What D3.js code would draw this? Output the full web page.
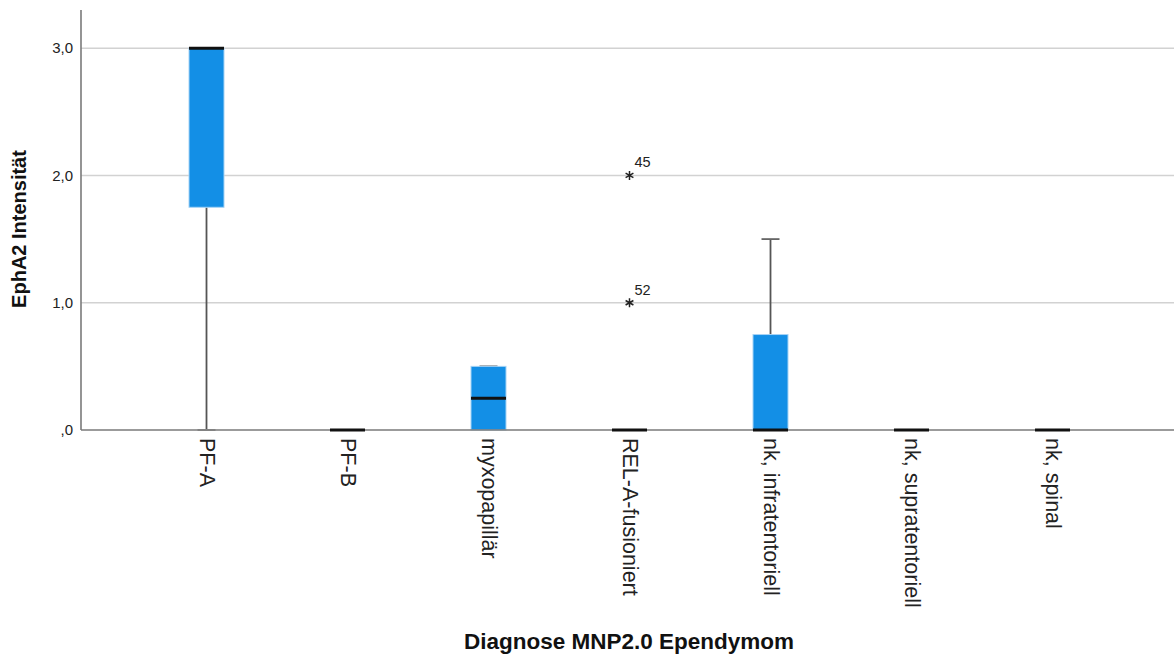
<!DOCTYPE html>
<html>
<head>
<meta charset="utf-8">
<script src="https://cdn.jsdelivr.net/npm/d3@7"></script>
<style>
  html, body { margin: 0; padding: 0; background: #fff; }
  svg { display: block; font-family: "Liberation Sans", Arial, sans-serif; }
</style>
</head>
<body>
<svg id="chart" width="1174" height="655"></svg>
<script>
// Diagnosis groups and EphA2 intensity box statistics
const categories = ["PF-A", "PF-B", "myxopapillär", "REL-A-fusioniert",
  "nk, infratentoriell", "nk, supratentoriell", "nk, spinal"];
const whiskerLow  = [0,    0, 0,    0, 0,    0, 0];
const quartile1   = [1.75, 0, 0,    0, 0,    0, 0];
const medians     = [3,    0, 0.25, 0, 0,    0, 0];
const quartile3   = [3,    0, 0.5,  0, 0.75, 0, 0];
const whiskerHigh = [3,    0, 0.5,  0, 1.5,  0, 0];
// extreme values: group, value, case number
const outlierGroup = ["REL-A-fusioniert", "REL-A-fusioniert"];
const outlierValue = [2, 1];
const outlierCase  = ["45", "52"];
const yTicks = [0, 1, 2, 3];
const yTickLabels = [",0", "1,0", "2,0", "3,0"];

const svg = d3.select("#chart");
const plot = { left: 81, right: 1174, top: 10, bottom: 430 };

const x = d3.scaleBand().domain(categories).range([136, 1123]);
const y = d3.scaleLinear().domain([0, 3.3]).range([plot.bottom, plot.top]);
const boxW = 35, capW = 18;
const cx = c => x(c) + x.bandwidth() / 2;

// horizontal grid lines
svg.append("g").selectAll("line").data(yTicks.filter(v => v > 0)).join("line")
  .attr("x1", plot.left).attr("x2", plot.right)
  .attr("y1", d => y(d)).attr("y2", d => y(d))
  .attr("stroke", "#d2d2d2").attr("stroke-width", 1.6);

// y axis
const yAxis = d3.axisLeft(y).tickValues(yTicks)
  .tickFormat((d, i) => yTickLabels[i]).tickSize(0).tickPadding(8);
const gy = svg.append("g").attr("transform", `translate(${plot.left},0)`).call(yAxis);
gy.select(".domain").remove();
gy.selectAll("text").attr("font-size", 15).attr("fill", "#222")
  .attr("font-family", "Liberation Sans, Arial, sans-serif");

// axis lines
svg.append("line").attr("x1", plot.left).attr("x2", plot.left)
  .attr("y1", plot.top).attr("y2", plot.bottom)
  .attr("stroke", "#7a7a7a").attr("stroke-width", 1.6);

const groups = categories.map((c, i) => ({
  c, lo: whiskerLow[i], q1: quartile1[i], med: medians[i], q3: quartile3[i], hi: whiskerHigh[i]
}));

const g = svg.append("g");
// whiskers
g.selectAll(".wlo").data(groups.filter(d => d.q1 > d.lo)).join("line")
  .attr("x1", d => cx(d.c)).attr("x2", d => cx(d.c))
  .attr("y1", d => y(d.q1)).attr("y2", d => y(d.lo))
  .attr("stroke", "#555").attr("stroke-width", 1.8);
g.selectAll(".whi").data(groups.filter(d => d.hi > d.q3)).join("line")
  .attr("x1", d => cx(d.c)).attr("x2", d => cx(d.c))
  .attr("y1", d => y(d.q3)).attr("y2", d => y(d.hi))
  .attr("stroke", "#555").attr("stroke-width", 1.8);
// whisker caps
const caps = [];
groups.forEach(d => { caps.push({ c: d.c, v: d.lo }); caps.push({ c: d.c, v: d.hi }); });
g.selectAll(".cap").data(caps.filter(d => d.v > 0)).join("line")
  .attr("x1", d => cx(d.c) - capW / 2).attr("x2", d => cx(d.c) + capW / 2)
  .attr("y1", d => y(d.v)).attr("y2", d => y(d.v))
  .attr("stroke", "#666").attr("stroke-width", 1.8);

// boxes
g.selectAll("rect").data(groups.filter(d => d.q3 > d.q1)).join("rect")
  .attr("x", d => cx(d.c) - boxW / 2).attr("width", boxW)
  .attr("y", d => y(d.q3)).attr("height", d => y(d.q1) - y(d.q3))
  .attr("fill", "#138fe6").attr("stroke", "#a6d3f5").attr("stroke-width", 1);

// x axis line
svg.append("line").attr("x1", plot.left).attr("x2", plot.right)
  .attr("y1", plot.bottom).attr("y2", plot.bottom)
  .attr("stroke", "#7a7a7a").attr("stroke-width", 1.6);

// lower caps resting on the axis
g.selectAll(".cap0").data(groups.filter(d => d.q1 > d.lo)).join("line")
  .attr("x1", d => cx(d.c) - capW / 2).attr("x2", d => cx(d.c) + capW / 2)
  .attr("y1", d => y(d.lo)).attr("y2", d => y(d.lo))
  .attr("stroke", "#9a9a9a").attr("stroke-width", 2);

// medians
svg.append("g").selectAll("line").data(groups).join("line")
  .attr("x1", d => cx(d.c) - boxW / 2).attr("x2", d => cx(d.c) + boxW / 2)
  .attr("y1", d => y(d.med)).attr("y2", d => y(d.med))
  .attr("stroke", "#111").attr("stroke-width", 3);

// extreme values drawn as asterisks with case numbers
const outliers = outlierGroup.map((c, i) => ({ c, v: outlierValue[i], id: outlierCase[i] }));
const r = 4.5;
const star = d3.range(3).map(k => {
  const a = Math.PI / 2 + k * Math.PI / 3;
  return `M${(r * Math.cos(a)).toFixed(2)},${(-r * Math.sin(a)).toFixed(2)}L${(-r * Math.cos(a)).toFixed(2)},${(r * Math.sin(a)).toFixed(2)}`;
}).join("");
const og = svg.append("g").selectAll("g").data(outliers).join("g")
  .attr("transform", d => `translate(${cx(d.c)},${y(d.v)})`);
og.append("path").attr("d", star).attr("stroke", "#222").attr("stroke-width", 1.5).attr("fill", "none");
og.append("text").attr("x", 5).attr("y", -8).text(d => d.id)
  .attr("font-size", 14.5).attr("fill", "#222");

// category labels, rotated
svg.append("g").selectAll("text").data(categories).join("text")
  .attr("transform", d => `translate(${cx(d)},${plot.bottom + 8}) rotate(90)`)
  .attr("dominant-baseline", "central")
  .attr("font-size", 21.5).attr("fill", "#222")
  .text(d => d);

// axis titles
svg.append("text").attr("x", 629).attr("y", 649).attr("text-anchor", "middle")
  .attr("font-size", 22.5).attr("font-weight", "bold").attr("fill", "#111")
  .text("Diagnose MNP2.0 Ependymom");
svg.append("text").attr("transform", "translate(26,229) rotate(-90)")
  .attr("text-anchor", "middle").attr("font-size", 20).attr("font-weight", "bold").attr("fill", "#111")
  .text("EphA2 Intensität");
</script>
</body>
</html>
